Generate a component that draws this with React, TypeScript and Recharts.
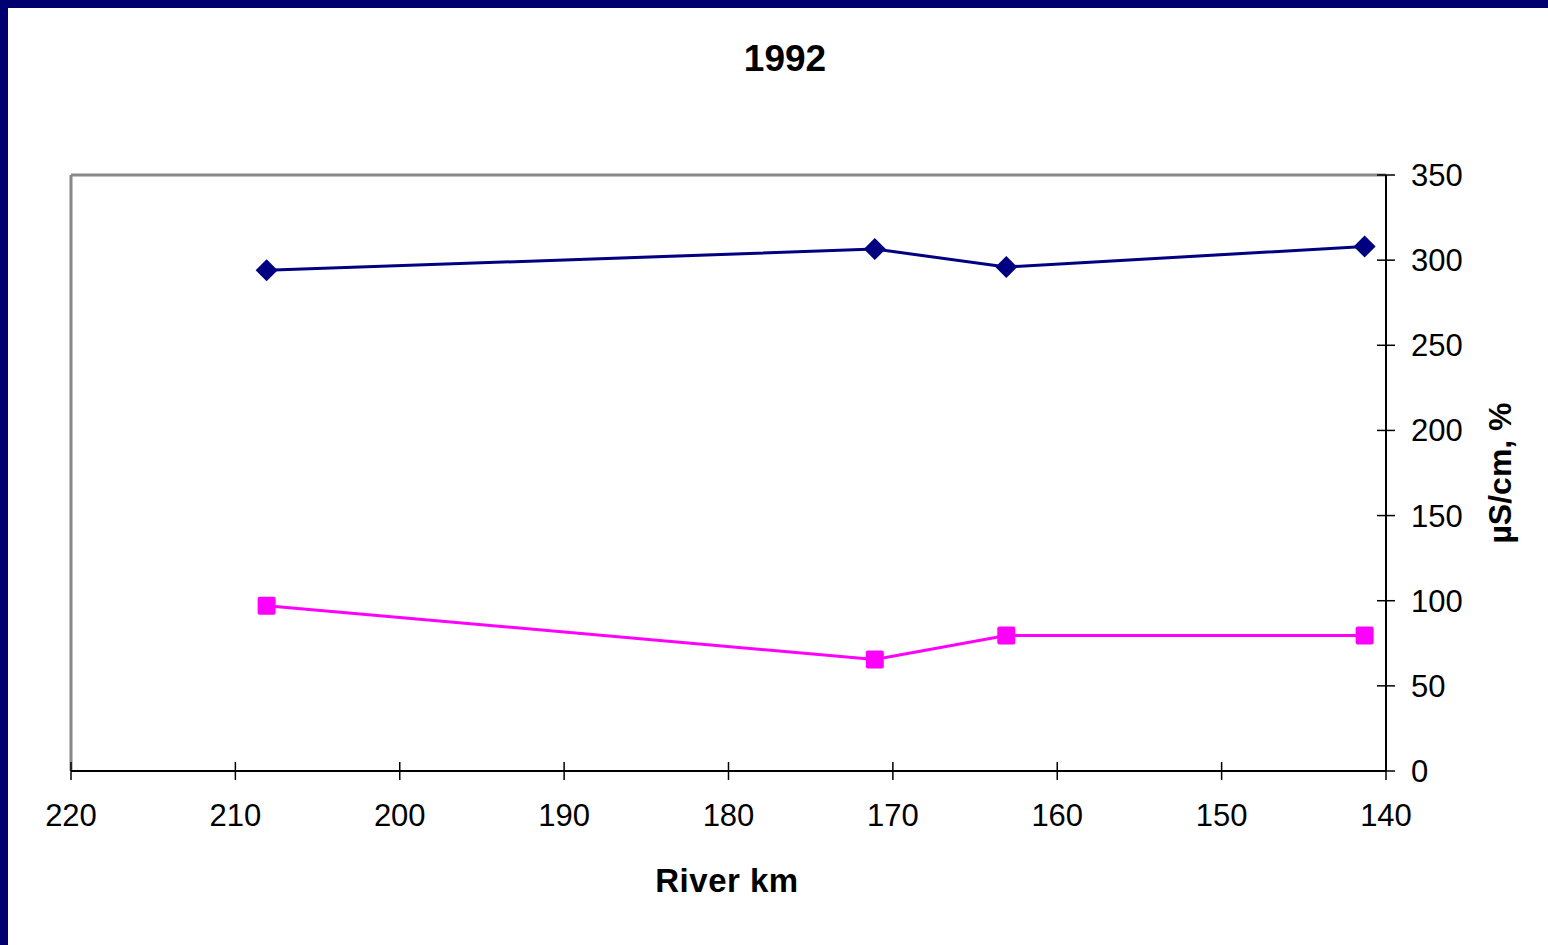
import { LineChart, Line, XAxis, YAxis, CartesianGrid } from 'recharts';

// river km positions of the sampling sites
const riverKm = [208.1, 171.1, 163.1, 141.3];
// conductivity, µS/cm (navy diamonds)
const conductivity = [294, 306.5, 296, 308];
// percent series (magenta squares)
const percent = [97, 65.5, 79.5, 79.5];

const xTicks = [220, 210, 200, 190, 180, 170, 160, 150, 140];
const yTicks = [0, 50, 100, 150, 200, 250, 300, 350];

const data = riverKm.map((km, i) => ({
  km,
  cond: conductivity[i],
  pct: percent[i],
}));

const NAVY = '#000080';
const MAGENTA = '#FF00FF';
const FONT = '"Liberation Sans", Arial, sans-serif';

function Diamond(props: any) {
  const { cx, cy } = props;
  if (cx == null || cy == null) return null;
  const r = 11;
  return (
    <path
      d={`M${cx},${cy - r}L${cx + r},${cy}L${cx},${cy + r}L${cx - r},${cy}Z`}
      fill={NAVY}
    />
  );
}

function Square(props: any) {
  const { cx, cy } = props;
  if (cx == null || cy == null) return null;
  const s = 18;
  return <rect x={cx - s / 2} y={cy - s / 2} width={s} height={s} rx={2} fill={MAGENTA} />;
}

function XTick(props: any) {
  const { x, y, payload } = props;
  return (
    <g>
      <line x1={x} x2={x} y1={y - 9} y2={y + 9} stroke="#000" strokeWidth={1.5} />
      <text x={x} y={y + 33} dy="0.71em" textAnchor="middle" fill="#000" fontSize={31} fontFamily={FONT}>
        {payload.value}
      </text>
    </g>
  );
}

function YTick(props: any) {
  const { x, y, payload } = props;
  return (
    <g>
      <line x1={x - 9} x2={x + 9} y1={y} y2={y} stroke="#000" strokeWidth={1.5} />
      <text x={x + 25} y={y} dy="0.355em" textAnchor="start" fill="#000" fontSize={31} fontFamily={FONT}>
        {payload.value}
      </text>
    </g>
  );
}

export default function App() {
  return (
    <div
      style={{
        position: 'absolute',
        left: 0,
        top: 0,
        width: 1548,
        height: 945,
        background: '#fff',
        fontFamily: FONT,
        overflow: 'hidden',
      }}
    >
      <LineChart
        width={1548}
        height={945}
        data={data}
        margin={{ top: 175, right: 32, left: 71, bottom: 54 }}
      >
        {/* gray frame on the top and left of the plot area */}
        <CartesianGrid
          horizontalValues={[350]}
          verticalValues={[220]}
          stroke="#888"
          strokeWidth={3}
        />
        <XAxis
          dataKey="km"
          type="number"
          domain={[140, 220]}
          ticks={xTicks}
          reversed
          height={120}
          tickSize={0}
          tickMargin={0}
          tickLine={false}
          axisLine={{ stroke: '#000', strokeWidth: 2 }}
          tick={<XTick />}
          interval={0}
        />
        <YAxis
          orientation="right"
          type="number"
          domain={[0, 350]}
          ticks={yTicks}
          width={130}
          tickSize={0}
          tickMargin={0}
          tickLine={false}
          axisLine={{ stroke: '#000', strokeWidth: 2 }}
          tick={<YTick />}
          interval={0}
        />
        <Line
          dataKey="cond"
          stroke={NAVY}
          strokeWidth={3}
          dot={<Diamond />}
          activeDot={false}
          isAnimationActive={false}
        />
        <Line
          dataKey="pct"
          stroke={MAGENTA}
          strokeWidth={3}
          dot={<Square />}
          activeDot={false}
          isAnimationActive={false}
        />
      </LineChart>

      <div
        style={{
          position: 'absolute',
          left: 785,
          top: 58,
          transform: 'translate(-50%, -50%)',
          fontSize: 37,
          fontWeight: 'bold',
          lineHeight: 1,
        }}
      >
        1992
      </div>
      <div
        style={{
          position: 'absolute',
          left: 727,
          top: 880,
          transform: 'translate(-50%, -50%)',
          fontSize: 33,
          fontWeight: 'bold',
          lineHeight: 1,
          whiteSpace: 'nowrap',
          letterSpacing: 0.5,
        }}
      >
        River km
      </div>
      <div
        style={{
          position: 'absolute',
          left: 1500,
          top: 473,
          transform: 'translate(-50%, -50%) rotate(-90deg)',
          fontSize: 32,
          fontWeight: 'bold',
          lineHeight: 1,
          whiteSpace: 'nowrap',
        }}
      >
        µS/cm, %
      </div>

      <div style={{ position: 'absolute', left: 0, top: 0, width: 1548, height: 8, background: '#000070' }} />
      <div style={{ position: 'absolute', left: 0, top: 0, width: 8, height: 945, background: '#000070' }} />
    </div>
  );
}
